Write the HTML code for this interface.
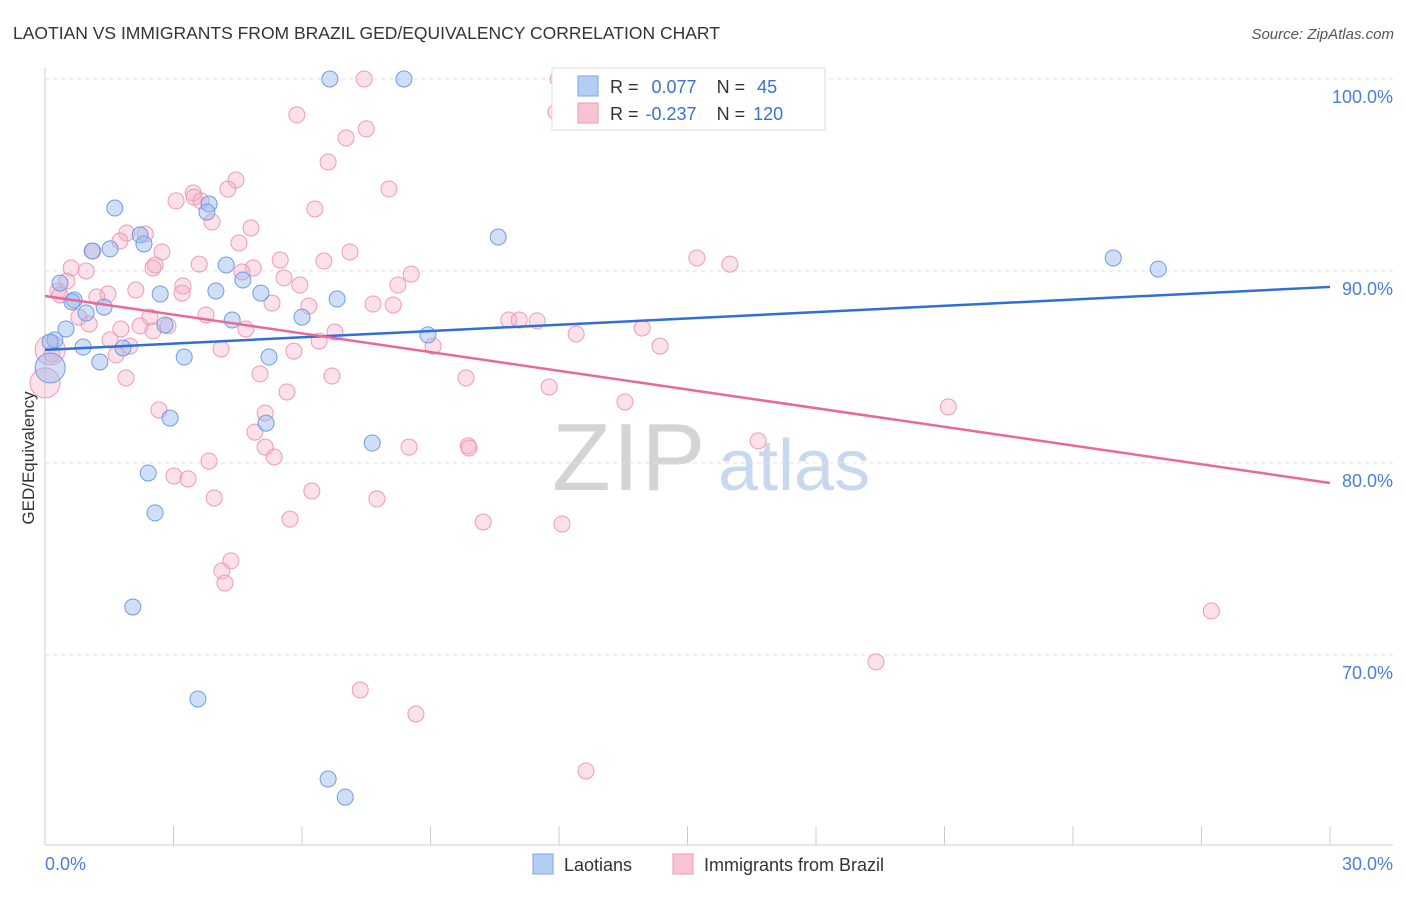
<!DOCTYPE html>
<html><head><meta charset="utf-8"><style>
body{margin:0;background:#fff;font-family:"Liberation Sans",sans-serif;}
svg text{font-family:"Liberation Sans",sans-serif;}
</style></head><body>
<svg id="chart" width="1406" height="892" viewBox="0 0 1406 892" xmlns="http://www.w3.org/2000/svg">
<text x="13" y="39" font-size="17.5" fill="#333">LAOTIAN VS IMMIGRANTS FROM BRAZIL GED/EQUIVALENCY CORRELATION CHART</text>
<text x="1394" y="39" font-size="15" fill="#555" font-style="italic" text-anchor="end">Source: ZipAtlas.com</text>
<g>
<text x="552" y="490" font-size="96" font-family="Liberation Serif, serif" fill="#d4d4d4" letter-spacing="2">ZIP</text>
<text x="718" y="490" font-size="72" fill="#c7d8ef">atlas</text>
</g>
<g id="grid"></g>
<g id="axes"></g>
<g id="pts"></g>
<g id="lines"></g>
<text transform="translate(34,458) rotate(-90)" font-size="17" fill="#333" text-anchor="middle">GED/Equivalency</text>
<g>
<rect x="552" y="68" width="273" height="62" fill="#fff" stroke="#ddd"/>
<rect x="578" y="76" width="20" height="20" fill="#b5cdf3" stroke="#7aa6e6"/>
<rect x="578" y="103" width="20" height="20" fill="#f8c4d4" stroke="#ef9ab5"/>
<text x="610" y="93" font-size="18" fill="#333">R = <tspan fill="#3a72d0" dx="8">0.077</tspan><tspan dx="20" fill="#333">N =</tspan><tspan dx="12" fill="#3a72d0">45</tspan></text>
<text x="610" y="120" font-size="18" fill="#333">R = <tspan fill="#3a72d0" dx="2">-0.237</tspan><tspan dx="20" fill="#333">N =</tspan><tspan dx="8" fill="#3a72d0">120</tspan></text>
</g>
<g>
<rect x="533" y="854" width="20" height="20" fill="#b5cdf3" stroke="#7aa6e6"/>
<text x="564" y="871" font-size="18" fill="#333">Laotians</text>
<rect x="673" y="854" width="20" height="20" fill="#f8c4d4" stroke="#ef9ab5"/>
<text x="704" y="871" font-size="18" fill="#333">Immigrants from Brazil</text>
</g>
</svg>
<script>
const yTicks=[100,90,80,70];
const yTickLabels=["100.0%","90.0%","80.0%","70.0%"];
const xTicks=[0,3,6,9,12,15,18,21,24,27,30];
const blueX=[6.65,8.38,1.63,3.83,3.78,2.22,2.31,1.52,1.10,10.58,4.23,4.62,3.99,5.04,2.69,6.82,0.35,0.68,0.63,1.38,0.96,6.00,4.37,0.49,2.80,8.94,0.23,0.89,1.82,3.25,1.28,5.23,0.12,5.16,2.92,2.41,2.57,7.64,2.05,3.57,6.61,7.01,24.94,25.99,0.12];
const blueY=[100,100,93.28,93.49,93.07,91.88,91.41,91.15,91.04,91.77,90.31,89.53,88.96,88.85,88.80,88.54,89.37,88.49,88.39,88.12,87.81,87.60,87.45,86.98,87.19,86.67,86.41,86.04,85.99,85.52,85.26,85.52,84.95,82.08,82.34,79.48,77.40,81.04,72.5,67.71,63.54,62.60,90.68,90.10,86.3];
const blueBig=[32];
const pinkX=[7.45,11.98,16.23,11.93,5.88,7.50,7.03,6.61,4.46,8.03,4.27,3.46,3.48,3.06,3.64,6.30,3.90,4.81,1.91,2.34,4.53,1.12,2.73,7.12,15.22,15.99,3.60,2.57,2.52,0.61,0.96,4.86,4.60,6.51,5.49,8.55,0.51,5.58,3.22,8.24,5.95,0.30,0.35,3.20,1.47,2.12,1.21,5.30,6.16,7.66,8.13,3.76,2.45,0.79,1.03,10.83,11.07,11.49,2.87,2.22,1.77,6.77,4.69,2.52,13.94,12.40,6.40,1.52,1.98,9.06,14.36,4.11,5.81,1.66,0.16,5.02,6.70,1.89,9.83,11.77,5.65,13.54,2.66,5.14,4.90,21.09,16.65,9.88,9.90,8.50,5.14,5.35,3.83,3.01,3.34,6.23,3.95,7.75,5.72,10.23,12.07,4.34,4.13,4.20,19.40,27.23,7.36,8.66,12.63,0,0.12,1.75];
const pinkY=[100,100,100,98.28,98.13,97.40,96.93,95.68,94.74,94.27,94.27,94.06,93.85,93.65,93.65,93.23,92.55,92.24,91.98,91.93,91.46,91.04,90.99,90.99,90.68,90.36,90.36,90.31,90.16,90.16,90.0,90.16,89.95,90.52,90.57,89.84,89.48,89.64,89.22,89.27,89.27,88.96,88.75,88.85,88.80,89.01,88.65,88.33,88.18,88.28,88.23,87.71,87.60,87.60,87.24,87.45,87.45,87.40,87.14,87.14,86.98,86.82,86.98,86.88,87.03,86.72,86.35,86.41,86.09,86.09,86.09,85.94,85.83,85.63,85.68,84.64,84.53,84.43,84.43,83.96,83.70,83.18,82.76,82.60,81.61,82.92,81.15,80.89,80.78,80.83,80.83,80.31,80.10,79.32,79.17,78.54,78.18,78.13,77.08,76.93,76.82,74.90,74.38,73.75,69.64,72.29,68.18,66.93,63.96,84.17,85.89,91.56];
const pinkBig=[109,110];
const blueTrend=[85.89,89.17];
const pinkTrend=[88.70,78.96];

const NS="http://www.w3.org/2000/svg";
const X=v=>45+v/30*1285;
const Y=v=>79+(100-v)*19.2;
function mk(tag,attrs,parent){const e=document.createElementNS(NS,tag);for(const k in attrs)e.setAttribute(k,attrs[k]);parent.appendChild(e);return e;}
const grid=document.getElementById('grid'),axes=document.getElementById('axes'),pts=document.getElementById('pts'),lines=document.getElementById('lines');
yTicks.forEach((t,i)=>{
 const l=mk('line',{x1:45,x2:1393,y1:Y(t),y2:Y(t),stroke:'#e2e2e2','stroke-dasharray':'4,4'},grid);
 
 
 const tx=mk('text',{x:1393,y:Y(t)+24,'font-size':18,fill:'#4a7fd4','text-anchor':'end'},axes);
 tx.textContent=yTickLabels[i];
 
 
});
mk('line',{x1:45,x2:45,y1:68,y2:845,stroke:'#ccc'},axes);
mk('line',{x1:45,x2:1393,y1:845,y2:845,stroke:'#ccc'},axes);
xTicks.forEach(t=>{
 const l=mk('line',{x1:X(t),x2:X(t),y1:826,y2:845,stroke:'#ccc'},axes);
 
 
});
const x0=mk('text',{x:45,y:870,'font-size':18,fill:'#4a7fd4'},axes);x0.textContent='0.0%';


const x1=mk('text',{x:1393,y:870,'font-size':18,fill:'#4a7fd4','text-anchor':'end'},axes);x1.textContent='30.0%';


function series(xs,ys,big,fill,stroke,name){
 xs.forEach((x,i)=>{
  const c=mk('circle',{cx:X(x),cy:Y(ys[i]),r:big.includes(i)?15:8,fill:fill,stroke:stroke,'stroke-width':1},pts);
  
  
 });
}
series(pinkX,pinkY,pinkBig,'rgba(245,170,195,0.35)','#ef9ab5','point-brazil');
series(blueX,blueY,blueBig,'rgba(150,185,240,0.45)','#6e9de3','point-laotians');
const bl=mk('line',{x1:X(0),y1:Y(blueTrend[0]),x2:X(30),y2:Y(blueTrend[1]),stroke:'#2f6fd6','stroke-width':2.5},lines);


const pl=mk('line',{x1:X(0),y1:Y(pinkTrend[0]),x2:X(30),y2:Y(pinkTrend[1]),stroke:'#e8689a','stroke-width':2.5},lines);


</script>
</body></html>
